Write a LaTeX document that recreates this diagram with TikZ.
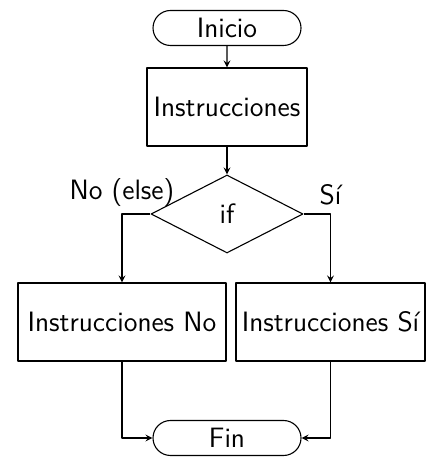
\documentclass[tikz,border=0pt]{standalone}
\usepackage{fontspec}
\usetikzlibrary{shapes.geometric,shapes.misc}
\tikzset{
	bloque/.style={draw,rectangle,minimum height=39pt,inner sep=2pt},
	extremo/.style={draw,rounded rectangle,minimum width=76pt,minimum height=17.5pt,inner sep=1pt},
	decision/.style={draw,diamond,minimum width=76pt,minimum height=39pt,inner sep=0pt}
}
\begin{document}
\begin{tikzpicture}[x=0.5pt,y=0.5pt,font=\fontsize{14}{16}\sffamily,line join = round,>=stealth,line width=0.55pt]
			\useasboundingbox (0,0) rectangle (433,459);
			\node[extremo] (inicio) at (227,431) {Inicio};
			\node[bloque,minimum width=80pt] (instr) at (227,352) {Instrucciones};
			\node[decision] (cond) at (227,245) {if};
			\node[bloque,minimum width=104pt] (no) at (122,137) {Instrucciones No};
			\node[bloque,minimum width=94.5pt] (si) at (330.5,137) {Instrucciones Sí};
			\node[extremo] (fin) at (227,21) {Fin};
			\draw[->] (inicio)--(instr);
			\draw[->] (instr)--(cond);
			\draw[->] (cond.west) -| node[above,pos=0.5]{No (else)} (no.north);
			\draw[->] (cond.east) -| node[above,pos=0.5,yshift=1pt]{Sí} (si.north);
			\draw[->] (no.south) |- (fin.west);
			\draw[->] (si.south) |- (fin.east);
	\end{tikzpicture}
\end{document}
